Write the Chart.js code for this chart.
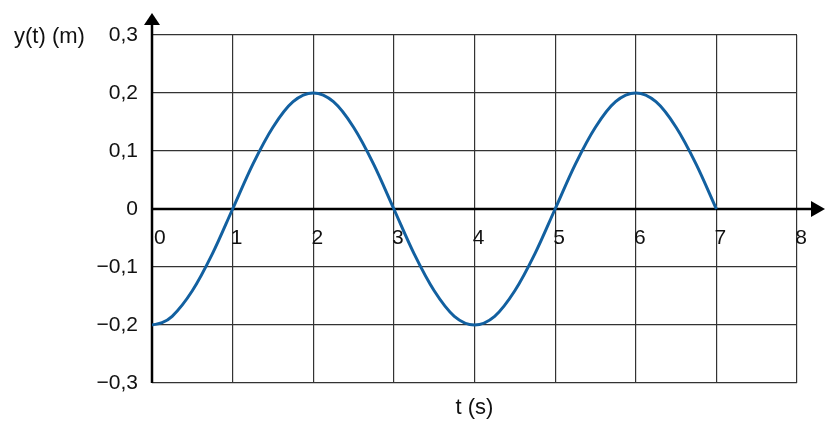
<!DOCTYPE html>
<html>
<head>
<meta charset="utf-8">
<script src="https://cdn.jsdelivr.net/npm/chart.js@4/dist/chart.umd.min.js"></script>
<style>
  html, body { margin: 0; padding: 0; background: #fff; }
  #wrap { width: 840px; height: 435px; }
</style>
</head>
<body>
<div id="wrap"><canvas id="chartCanvas" width="840" height="435"></canvas></div>
<script>
// values, about every quarter second
const T_VALUES = [0, 0.125, 0.25, 0.5, 0.75, 1, 1.25, 1.5, 1.75, 2, 2.25, 2.5, 2.75, 3, 3.25, 3.5, 3.75,
                  4, 4.25, 4.5, 4.75, 5, 5.25, 5.5, 5.75, 6, 6.25, 6.5, 6.75, 7];
const Y_VALUES = [-0.2, -0.196, -0.185, -0.141, -0.077, 0, 0.077, 0.141, 0.185, 0.2, 0.185, 0.141, 0.077, 0,
                  -0.077, -0.141, -0.185, -0.2, -0.185, -0.141, -0.077, 0, 0.077, 0.141, 0.185, 0.2,
                  0.185, 0.141, 0.077, 0];

const X_TICK_LABELS = ['0', '1', '2', '3', '4', '5', '6', '7', '8'];
const Y_TICK_LABELS = ['\u22120,3', '\u22120,2', '\u22120,1', '0', '0,1', '0,2', '0,3'];
const X_TITLE = 't (s)';
const Y_TITLE = 'y(t) (m)';

const FONT_FAMILY = '"Liberation Sans", Arial, sans-serif';
const LINE_COLOR  = '#1260a0';
const GRID_COLOR  = '#333333';

Chart.defaults.font.family = FONT_FAMILY;

// axes with arrow heads, x tick labels under the zero line, axis titles
const axesPlugin = {
   id: 'axesPlugin',
   beforeDatasetsDraw(chart) {
      const ctx  = chart.ctx;
      const area = chart.chartArea;
      const x    = chart.scales.x;
      const y    = chart.scales.y;
      const x0   = x.getPixelForValue(0);
      const y0   = y.getPixelForValue(0);

      ctx.save();
      ctx.strokeStyle = '#000';
      ctx.fillStyle   = '#000';
      ctx.lineWidth   = 2.5;

      ctx.beginPath();
      ctx.moveTo(x0, area.bottom);
      ctx.lineTo(x0, area.top - 12);
      ctx.stroke();
      ctx.beginPath();
      ctx.moveTo(x0, area.top - 22);
      ctx.lineTo(x0 - 8, area.top - 10);
      ctx.lineTo(x0 + 8, area.top - 10);
      ctx.closePath();
      ctx.fill();

      ctx.beginPath();
      ctx.moveTo(x0, y0);
      ctx.lineTo(area.right + 16, y0);
      ctx.stroke();
      ctx.beginPath();
      ctx.moveTo(area.right + 28, y0);
      ctx.lineTo(area.right + 14, y0 - 8);
      ctx.lineTo(area.right + 14, y0 + 8);
      ctx.closePath();
      ctx.fill();

      ctx.font         = '21px ' + FONT_FAMILY;
      ctx.fillStyle    = '#111';
      ctx.textBaseline = 'middle';
      X_TICK_LABELS.forEach((label, i) => {
         // the first label sits clear of the y axis
         ctx.textAlign = i === 0 ? 'left' : 'center';
         ctx.fillText(label, x.getPixelForValue(i) + (i === 0 ? 2 : 4), y0 + 29);
      });

      ctx.font      = '22px ' + FONT_FAMILY;
      ctx.textAlign = 'center';
      ctx.fillText(X_TITLE, x.getPixelForValue(4), area.bottom + 25);
      ctx.textAlign = 'left';
      ctx.fillText(Y_TITLE, 14, area.top + 2);
      ctx.restore();
   }
};

const chartConfig = {
   type: 'line',
   data: {
      datasets: [{
         data: T_VALUES.map((t, i) => ({x: t, y: Y_VALUES[i]})),
         borderColor: LINE_COLOR,
         borderWidth: 3,
         pointRadius: 0,
         fill: false,
         cubicInterpolationMode: 'monotone'
      }]
   },
   options: {
      responsive: false,
      animation: false,
      layout: {
         padding: {left: 0, right: 43, top: 35, bottom: 52}
      },
      scales: {
         x: {
            type: 'linear',
            min: 0,
            max: 8,
            ticks: {display: false, stepSize: 1},
            grid: {color: GRID_COLOR, lineWidth: 1.2, drawTicks: false},
            border: {display: false}
         },
         y: {
            min: -0.3,
            max: 0.3,
            afterFit: scale => { scale.width = 152; },
            ticks: {
               stepSize: 0.1,
               padding: 14,
               color: '#111',
               font: {size: 21},
               callback: (value, index) => Y_TICK_LABELS[index]
            },
            grid: {color: GRID_COLOR, lineWidth: 1.2, drawTicks: false},
            border: {display: false}
         }
      },
      plugins: {
         legend: {display: false},
         tooltip: {enabled: false}
      }
   },
   plugins: [axesPlugin]
};

new Chart(document.getElementById('chartCanvas'), chartConfig);
</script>
</body>
</html>
